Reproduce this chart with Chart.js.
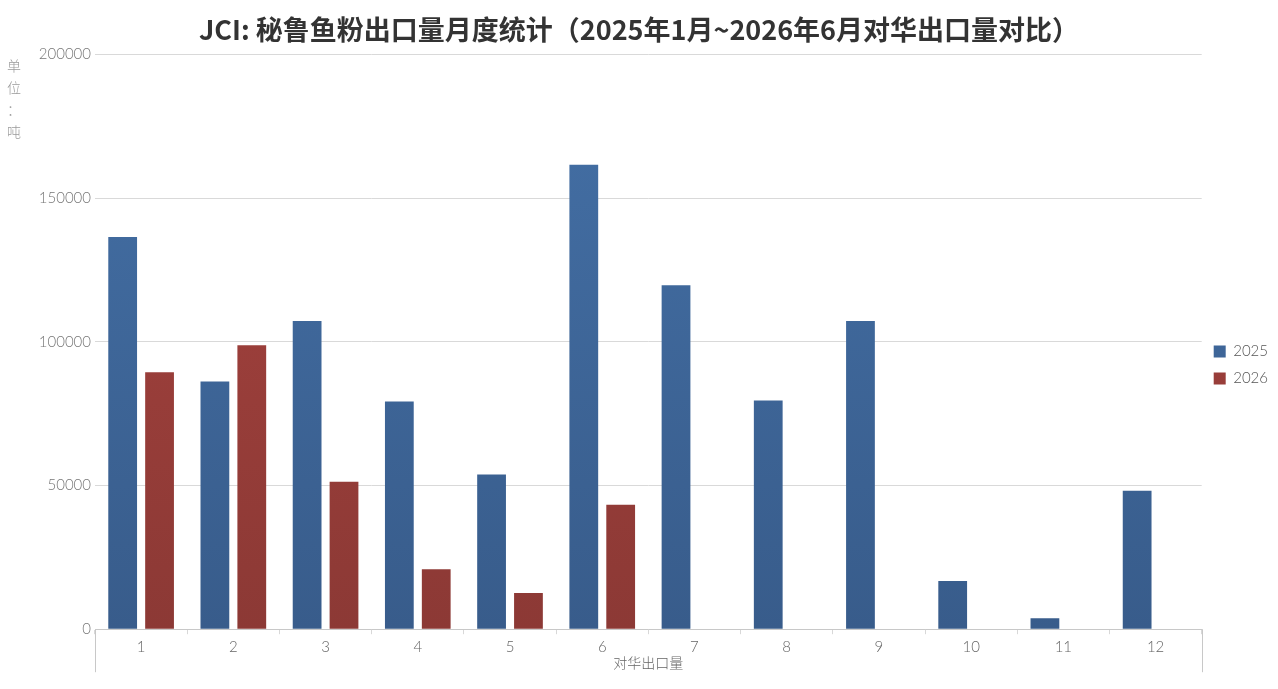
<!DOCTYPE html>
<html lang="zh">
  <head>
    <meta charset="UTF-8" />
    <title>JCI 秘鲁鱼粉出口量</title>
    <script src="https://cdn.jsdelivr.net/npm/chart.js"></script>
    <style>
      html, body { margin: 0; padding: 0; background: #fff; }
      .wrap { position: relative; width: 1278px; height: 689px; }
    </style>
  </head>
  <body>
    <div class="wrap">
      <canvas id="exportChart" width="1278" height="689"></canvas>
    </div>

    <script>
      // 数据（单位：吨）
      const months = ["1", "2", "3", "4", "5", "6", "7", "8", "9", "10", "11", "12"];
      const exports2025 = [136500, 86200, 107200, 79200, 53800, 161600, 119700, 79600, 107200, 16800, 3800, 48200];
      const exports2026 = [89400, 98800, 51300, 20900, 12600, 43300];
      const yTicks = [0, 50000, 100000, 150000, 200000];

      const titleText = "JCI: 秘鲁鱼粉出口量月度统计（2025年1月~2026年6月对华出口量对比）";
      const yTitleChars = ["单", "位", "：", "吨"];
      const xTitleText = "对华出口量";

      const lightFont = "'Lato', 'Noto Sans CJK SC', sans-serif";
      const cjkFont = "'Noto Sans CJK SC', sans-serif";

      // 柱子渐变色
      function barGradient(top, bottom) {
        return function (ctx) {
          const area = ctx.chart.chartArea;
          if (!area) return bottom;
          const g = ctx.chart.ctx.createLinearGradient(0, area.top, 0, area.bottom);
          g.addColorStop(0, top);
          g.addColorStop(1, bottom);
          return g;
        };
      }

      // 纵轴标题（竖排）和横轴两端竖线
      const extras = {
        id: "extras",
        afterDraw(chart) {
          const c = chart.ctx;
          const a = chart.chartArea;
          c.save();
          c.fillStyle = "#9a9a9a";
          c.font = "300 14px " + cjkFont;
          c.textAlign = "center";
          c.textBaseline = "middle";
          yTitleChars.forEach((ch, i) => c.fillText(ch, 14, 66 + i * 22));
          c.strokeStyle = "#c8c8c8";
          c.lineWidth = 1;
          c.beginPath();
          c.moveTo(Math.round(a.left) + 0.5, a.bottom);
          c.lineTo(Math.round(a.left) + 0.5, a.bottom + 43);
          c.moveTo(Math.round(a.right) + 0.5, a.bottom);
          c.lineTo(Math.round(a.right) + 0.5, a.bottom + 43);
          c.stroke();
          c.restore();
        },
      };

      new Chart(document.getElementById("exportChart"), {
        type: "bar",
        data: {
          labels: months,
          datasets: [
            {
              label: "2025",
              data: exports2025,
              backgroundColor: barGradient("#4470a6", "#385c8b"),
              categoryPercentage: 0.8,
              barPercentage: 0.78,
            },
            {
              label: "2026",
              data: exports2026,
              backgroundColor: barGradient("#a8433f", "#8c3935"),
              categoryPercentage: 0.8,
              barPercentage: 0.78,
            },
          ],
        },
        plugins: [extras],
        options: {
          responsive: false,
          animation: false,
          layout: { padding: { left: 0, right: 0, top: 5, bottom: 18 } },
          plugins: {
            title: {
              display: true,
              text: titleText,
              color: "#333",
              font: { family: cjkFont, size: 27, weight: "bold" },
              padding: { top: 9, bottom: 8 },
            },
            legend: {
              position: "right",
              title: {
                display: true,
                text: "",
                font: { size: 10 },
                padding: { top: 22, bottom: 20 },
              },
              labels: {
                boxWidth: 12,
                boxHeight: 12,
                padding: 12,
                color: "#555",
                font: { family: lightFont, size: 15, weight: 300 },
              },
            },
            tooltip: { enabled: false },
          },
          scales: {
            x: {
              grid: {
                offset: true,
                drawOnChartArea: false,
                tickLength: 5,
                color: "#d8d8d8",
              },
              border: { color: "#c8c8c8" },
              ticks: {
                color: "#666",
                padding: 4,
                font: { family: lightFont, size: 15, weight: 300 },
              },
              title: {
                display: true,
                text: xTitleText,
                color: "#666",
                padding: { top: -6, bottom: 0 },
                font: { family: cjkFont, size: 14, weight: 300 },
              },
            },
            y: {
              min: 0,
              max: 200000,
              afterBuildTicks(axis) {
                axis.ticks = yTicks.map((v) => ({ value: v }));
              },
              afterFit(axis) {
                axis.width = 95;
              },
              grid: { color: "#d9d9d9", tickLength: 0 },
              border: { display: false },
              ticks: {
                color: "#777",
                padding: 4,
                font: { family: lightFont, size: 15, weight: 300 },
                callback: (v) => String(v),
              },
            },
          },
        },
      });
    </script>
  </body>
</html>
